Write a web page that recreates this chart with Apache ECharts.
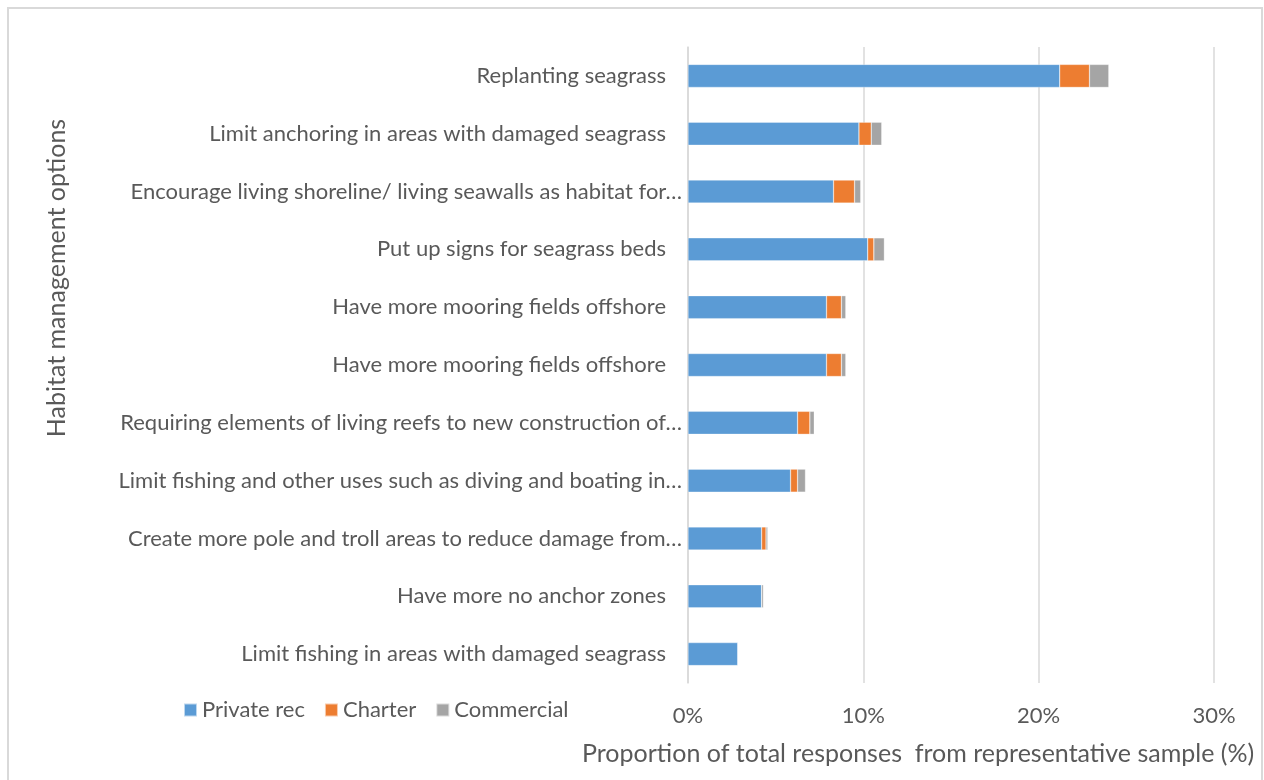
<!DOCTYPE html>
<html>
<head>
<meta charset="utf-8">
<script src="https://cdn.jsdelivr.net/npm/echarts@6/dist/echarts.min.js"></script>
<style>
  html, body { margin: 0; padding: 0; background: #fff; }
  #chart { width: 1264px; height: 780px; }
</style>
</head>
<body>
<div id="chart"></div>
<script>
// Habitat management options, share of total responses by sector (%)
const categories = [
  'Replanting seagrass',
  'Limit anchoring in areas with damaged seagrass',
  'Encourage living shoreline/ living seawalls as habitat for…',
  'Put up signs for seagrass beds',
  'Have more mooring fields offshore',
  'Have more mooring fields offshore',
  'Requiring elements of living reefs to new construction of…',
  'Limit fishing and other uses such as diving and boating in…',
  'Create more pole and troll areas to reduce damage from…',
  'Have more no anchor zones',
  'Limit fishing in areas with damaged seagrass'
];
const privateRec = [21.2, 9.75, 8.3, 10.25, 7.9, 7.9, 6.25, 5.85, 4.2, 4.2, 2.85];
const charter    = [1.7, 0.7, 1.2, 0.35, 0.85, 0.85, 0.7, 0.4, 0.25, 0.0, 0.0];
const commercial = [1.1, 0.6, 0.35, 0.6, 0.25, 0.25, 0.25, 0.45, 0.1, 0.1, 0.0];
const xTicks = [0, 10, 20, 30];
const xTitle = 'Proportion of total responses  from representative sample (%)';
const yTitle = 'Habitat management options';

const FONT = 'Lato';
const TEXT = '#595959';
const GRID = '#d9d9d9';

const chart = echarts.init(document.getElementById('chart'), null, { renderer: 'canvas' });

function bar(name, data, color) {
  return {
    name: name,
    type: 'bar',
    stack: 'total',
    data: data,
    barWidth: 23,
    itemStyle: { color: color, borderColor: 'rgba(255,255,255,0.6)', borderWidth: 0.5 },
    emphasis: { disabled: true }
  };
}

chart.setOption({
  animation: false,
  textStyle: { fontFamily: FONT, color: TEXT },
  grid: { left: 688, right: 50, top: 47, bottom: 97, containLabel: false },
  legend: {
    left: 183, top: 699, padding: 0,
    itemWidth: 13, itemHeight: 13, itemGap: 19,
    icon: 'rect',
    textStyle: { fontFamily: FONT, fontSize: 22, color: TEXT },
    data: ['Private rec', 'Charter', 'Commercial']
  },
  title: {
    text: xTitle,
    left: 582, top: 741, padding: 0,
    textStyle: { fontFamily: FONT, fontSize: 25, fontWeight: 'normal', color: TEXT }
  },
  xAxis: {
    type: 'value',
    min: xTicks[0], max: xTicks[xTicks.length - 1], interval: 10,
    axisLine: { show: false },
    axisTick: { show: false },
    splitLine: { lineStyle: { color: GRID, width: 1.5 } },
    axisLabel: {
      fontFamily: FONT, fontSize: 22, color: TEXT, margin: 22,
      formatter: v => v + '%'
    }
  },
  yAxis: {
    type: 'category',
    inverse: true,
    data: categories,
    axisLine: { show: true, lineStyle: { color: GRID, width: 1.5 } },
    axisTick: { show: false },
    axisLabel: {
      margin: 6,
      formatter: v => v.endsWith('…') ? '{t|' + v + '}' : '{n|' + v + '}',
      rich: {
        n: { fontFamily: FONT, fontSize: 22, color: TEXT, padding: [0, 16, 0, 0] },
        t: { fontFamily: FONT, fontSize: 22, color: TEXT, padding: [0, 0, 0, 0] }
      }
    }
  },
  graphic: [
    {
      type: 'rect',
      shape: { x: 8, y: 8, width: 1254, height: 790 },
      style: { fill: 'none', stroke: GRID, lineWidth: 2 },
      silent: true
    },
    {
      // vertical axis title, sits above the plot's vertical centre
      type: 'text',
      x: 57, y: 278,
      rotation: Math.PI / 2,
      style: {
        text: yTitle,
        font: '25px ' + FONT,
        fill: TEXT,
        align: 'center',
        verticalAlign: 'middle'
      },
      silent: true
    }
  ],
  series: [
    bar('Private rec', privateRec, '#5B9BD5'),
    bar('Charter', charter, '#ED7D31'),
    bar('Commercial', commercial, '#A5A5A5')
  ]
});
</script>
</body>
</html>
